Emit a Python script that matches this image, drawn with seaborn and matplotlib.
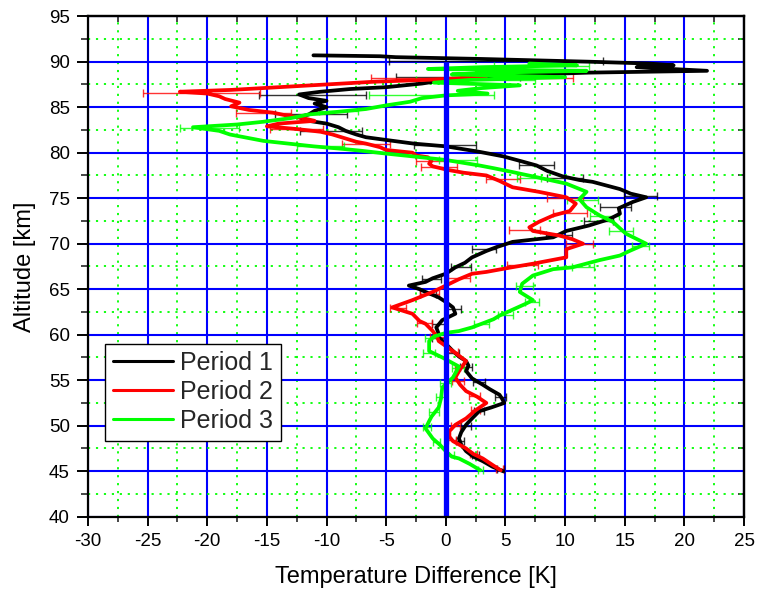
import numpy as np
import pandas as pd
import matplotlib
matplotlib.use("Agg")
import matplotlib.pyplot as plt
from matplotlib.ticker import MultipleLocator
import seaborn as sns

# ---------------- data ----------------
periods = ["Period 1", "Period 2", "Period 3"]
period_colors = ["#000000", "#FF0000", "#00FF00"]

p1_alt = [45.0, 45.5, 46.1, 46.6, 47.2, 47.9, 48.6, 49.3, 50.1, 50.8, 51.6, 52.0, 52.5, 53.0,
          53.4, 54.0, 54.5, 55.2, 56.0, 56.6, 57.1, 57.6, 58.2, 59.0, 59.7, 60.1, 60.8, 61.6,
          62.3, 63.0, 63.6, 64.1, 64.7, 65.0, 65.4, 65.8, 66.2, 66.7, 67.4, 67.9, 68.5, 69.2,
          69.6, 70.2, 70.7, 71.4, 72.0, 72.7, 73.3, 73.9, 74.6, 75.1, 75.5, 76.0, 76.8, 77.0,
          77.4, 78.0, 78.6, 79.0, 79.6, 80.1, 80.7, 81.0, 81.4, 81.7, 82.0, 82.4, 82.8, 83.2,
          83.5, 83.9, 84.2, 84.6, 85.0, 85.4, 85.7, 86.0, 86.4, 86.7, 87.0, 87.2, 87.6, 88.0,
          88.5, 88.8, 89.0, 89.4, 89.6, 89.8, 90.0, 90.3, 90.5, 90.6, 90.7]
p1_T = [4.8, 3.9, 3.1, 2.3, 1.7, 1.3, 1.1, 1.3, 1.7, 2.2, 2.8, 3.8, 4.9, 4.7,
        4.5, 3.7, 3.1, 2.2, 1.7, 1.9, 1.7, 1.1, 0.6, 0.0, -0.6, -0.6, -0.8, -0.3,
        0.8, 0.6, 0.0, -0.6, -1.7, -2.2, -3.1, -1.7, -1.1, 0.0, 0.8, 1.6, 2.2, 3.4,
        4.2, 5.6, 9.0, 10.1, 12.0, 13.7, 14.6, 14.5, 15.7, 16.8, 15.5, 14.6, 12.3, 11.2,
        9.8, 8.5, 7.6, 6.5, 4.8, 2.8, 0.0, -2.7, -5.0, -6.7, -7.5, -8.4, -9.0, -10.0,
        -11.5, -12.3, -11.5, -11.0, -10.0, -11.0, -10.0, -11.5, -12.3, -10.5, -8.0, -5.0, -2.0, 0.0,
        5.0, 12.0, 21.9, 16.0, 19.1, 17.0, 12.0, 3.0, -4.2, -5.5, -11.1]

p2_alt = [45.1, 45.7, 46.4, 46.9, 47.5, 48.3, 48.8, 49.4, 50.1, 50.8, 51.7, 52.5, 53.2, 53.8,
          54.5, 55.3, 56.2, 57.1, 58.2, 59.3, 59.7, 60.4, 61.2, 61.5, 62.3, 63.0, 63.8, 64.7,
          65.4, 66.1, 66.7, 66.9, 67.4, 67.8, 68.5, 69.4, 70.0, 70.5, 70.9, 71.4, 71.8, 72.4,
          73.1, 73.6, 74.4, 75.1, 75.7, 76.2, 76.9, 77.5, 77.8, 78.1, 78.5, 78.8, 79.1, 79.5,
          79.7, 80.0, 80.3, 80.6, 81.0, 81.2, 81.6, 82.0, 82.3, 82.6, 82.9, 83.2, 83.5, 83.8,
          84.1, 84.4, 84.7, 85.1, 85.5, 85.9, 86.2, 86.5, 86.7, 86.9, 87.2, 87.5, 87.8, 88.0,
          88.1, 88.4]
p2_T = [4.6, 3.9, 3.1, 2.3, 1.7, 0.6, 0.3, 0.3, 0.8, 1.7, 2.5, 3.4, 2.6, 1.7,
        1.2, 0.8, 1.2, 1.7, 0.6, -0.6, -0.7, -1.1, -1.7, -2.2, -2.8, -4.5, -2.8, -1.1,
        0.0, 1.1, 2.2, 3.4, 5.5, 7.3, 10.1, 10.1, 11.5, 10.6, 9.5, 7.3, 7.0, 7.8,
        9.0, 10.4, 10.9, 10.1, 7.8, 5.6, 4.5, 3.4, 1.5, 0.2, -1.1, -1.4, -1.2, -1.5,
        -2.5, -2.8, -5.0, -5.5, -6.7, -7.5, -8.5, -9.5, -10.5, -12.5, -15.0, -14.0, -11.0, -12.0,
        -13.4, -14.5, -16.5, -18.0, -17.3, -18.5, -19.0, -20.0, -22.3, -18.0, -14.0, -10.0, -6.0, -1.7,
        0.0, 3.4]

p3_alt = [45.1, 45.8, 46.4, 46.6, 47.2, 47.9, 48.6, 49.7, 50.5, 51.0, 52.0, 53.0, 54.2, 55.3,
          56.5, 57.5, 58.2, 59.3, 59.8, 60.2, 60.4, 60.8, 61.7, 62.1, 63.4, 63.8, 64.7, 65.6,
          66.5, 67.2, 67.4, 68.2, 68.7, 69.2, 70.0, 71.1, 72.4, 73.1, 74.0, 74.9, 75.7, 76.6,
          77.2, 77.9, 78.3, 78.6, 79.2, 79.6, 79.9, 80.2, 80.4, 80.7, 80.9, 81.3, 81.6, 82.0,
          82.4, 82.8, 83.1, 83.4, 83.8, 84.2, 84.5, 84.8, 85.2, 85.6, 86.0, 86.3, 86.5, 86.8,
          87.1, 87.4, 87.7, 88.0, 88.3, 88.6, 88.8, 89.0, 89.2, 89.4, 89.6, 89.8]
p3_T = [2.9, 2.0, 1.1, 0.5, 0.0, -0.5, -1.1, -1.7, -1.4, -1.2, -0.6, -0.4, -0.3, 0.6,
        1.1, -0.3, -1.4, -1.4, -1.0, 0.0, 1.1, 2.2, 4.0, 4.5, 6.7, 7.3, 6.2, 6.4,
        7.3, 9.0, 10.6, 12.9, 14.6, 15.4, 16.8, 15.1, 14.0, 12.9, 11.8, 11.2, 11.8, 10.1,
        8.0, 5.5, 4.0, 2.8, 0.0, -2.8, -5.0, -7.0, -8.5, -11.1, -12.5, -15.3, -16.5, -18.1,
        -19.0, -21.2, -17.5, -15.3, -13.0, -11.5, -9.0, -6.7, -5.0, -3.0, -2.0, 0.0, 3.5, 1.0,
        3.0, 6.2, -1.0, 2.0, 10.0, 0.5, 4.0, 11.8, -1.5, 3.0, 11.0, 7.0]

# error bars (altitude, centre, half width)
eb1_alt = [45.2, 46.8, 48.3, 50.0, 51.6, 53.2, 54.8, 56.4, 58.0, 59.6, 61.2, 62.8, 64.5, 66.1,
           67.4, 69.4, 71.0, 72.5, 74.0, 75.2, 77.2, 78.7, 80.9, 82.4, 84.3, 86.3, 88.3, 90.1]
eb1_T = [4.6, 2.5, 1.2, 1.7, 2.8, 4.6, 2.8, 1.7, 0.6, -0.6, -0.6, 0.7, -1.5, -1.2,
         1.3, 3.2, 9.5, 12.8, 14.2, 16.3, 10.0, 7.6, -0.1, -9.6, -11.3, -11.2, 1.0, 4.2]
eb1_err = [0.3, 0.3, 0.35, 0.4, 0.4, 0.45, 0.5, 0.5, 0.5, 0.55, 0.6, 0.6, 0.7, 0.8,
           0.85, 1.0, 1.1, 1.2, 1.3, 1.4, 1.5, 1.5, 2.6, 2.6, 3.0, 4.5, 5.2, 9.0]

eb2_alt = [45.2, 46.9, 48.4, 50.0, 51.7, 53.3, 54.9, 56.5, 58.1, 59.7, 61.3, 62.9, 64.5, 66.2,
           67.7, 70.0, 71.5, 73.4, 75.0, 77.1, 78.4, 79.1, 81.0, 82.6, 84.4, 86.6, 88.2]
eb2_T = [4.5, 2.3, 0.5, 0.8, 2.5, 2.4, 1.0, 1.3, 0.5, -0.7, -1.8, -4.0, -1.4, 1.1,
         6.4, 11.2, 6.6, 10.4, 10.0, 4.8, -0.6, -1.2, -6.7, -12.5, -15.3, -20.5, 2.2]
eb2_err = [0.3, 0.3, 0.35, 0.4, 0.4, 0.45, 0.5, 0.5, 0.55, 0.6, 0.6, 0.7, 0.8, 0.9,
           1.3, 1.1, 1.3, 1.4, 1.5, 1.4, 1.5, 1.3, 2.0, 2.2, 2.3, 4.9, 8.5]

eb3_alt = [45.1, 46.8, 48.2, 49.9, 51.5, 53.1, 54.7, 56.3, 58.0, 59.6, 61.2, 62.2, 63.6, 65.4,
           67.4, 69.8, 71.4, 73.0, 74.8, 77.2, 79.2, 80.7, 82.7, 84.6, 86.3, 88.0, 89.5]
eb3_T = [2.9, 0.4, -0.8, -1.6, -1.0, -0.4, 0.0, 1.0, -1.4, -1.2, 3.0, 5.0, 7.2, 6.6,
         11.5, 16.3, 14.7, 13.3, 11.5, 7.0, 1.0, -10.5, -19.8, -9.0, -1.2, 2.5, 8.0]
eb3_err = [0.2, 0.3, 0.3, 0.35, 0.4, 0.4, 0.45, 0.5, 0.5, 0.55, 0.6, 0.6, 0.6, 0.7,
           0.9, 0.7, 1.0, 1.2, 1.3, 1.0, 1.6, 2.0, 2.5, 1.6, 5.2, 5.0, 4.0]

x_ticks = [-30, -25, -20, -15, -10, -5, 0, 5, 10, 15, 20, 25]
y_ticks = [40, 45, 50, 55, 60, 65, 70, 75, 80, 85, 90, 95]
zero_line = {"T": 0, "alt_from": 40, "alt_to": 90}

# ---------------- figure ----------------
sns.set_theme(style="ticks")
plt.rcParams["font.family"] = ["Liberation Sans", "DejaVu Sans"]
plt.rcParams["axes.unicode_minus"] = False

fig = plt.figure(figsize=(7.57, 5.98), dpi=100)
ax = fig.add_axes([0.11625, 0.13595, 0.86658, 0.83696])

df = pd.concat([
    pd.DataFrame({"T": p1_T, "alt": p1_alt, "Period": periods[0]}),
    pd.DataFrame({"T": p2_T, "alt": p2_alt, "Period": periods[1]}),
    pd.DataFrame({"T": p3_T, "alt": p3_alt, "Period": periods[2]}),
], ignore_index=True)

sns.lineplot(data=df, x="T", y="alt", hue="Period", hue_order=periods,
             palette=period_colors, sort=False, estimator=None, orient="y",
             linewidth=2.7, legend=False, ax=ax, zorder=3)

for (ea, et, ee), col in zip([(eb1_alt, eb1_T, eb1_err), (eb2_alt, eb2_T, eb2_err),
                              (eb3_alt, eb3_T, eb3_err)], period_colors):
    ax.errorbar(et, ea, xerr=ee, fmt="none", ecolor=col, elinewidth=1.0,
                capsize=3.2, capthick=1.0, alpha=0.8, zorder=2.5)

ax.vlines(zero_line["T"], zero_line["alt_from"], zero_line["alt_to"],
          color="#0000FF", linewidth=3.8, zorder=6)

ax.set_xlim(-30, 25)
ax.set_ylim(40, 95)
ax.set_xticks(x_ticks)
ax.set_yticks(y_ticks)
ax.xaxis.set_minor_locator(MultipleLocator(2.5))
ax.yaxis.set_minor_locator(MultipleLocator(2.5))

ax.set_axisbelow(True)
ax.grid(which="major", color="#0000FF", linewidth=1.5, linestyle="-")
ax.grid(which="minor", color="#00FF00", linewidth=1.3, linestyle=(0, (1.2, 3.2)))

for s in ax.spines.values():
    s.set_color("black")
    s.set_linewidth(1.6)
    s.set_zorder(7)

ax.tick_params(axis="x", which="major", direction="out", length=6.5, width=1.4,
               labelsize=13.5, colors="black", pad=5)
ax.tick_params(axis="x", which="minor", direction="out", length=3.6, width=1.2)
ax.tick_params(axis="y", which="major", direction="out", length=8, width=1.4,
               labelsize=13.5, colors="black", pad=5)
ax.tick_params(axis="y", which="minor", direction="out", length=4.8, width=1.2)

secx = ax.secondary_xaxis("top")
secx.set_xticks(x_ticks)
secx.set_xticklabels([])
secx.xaxis.set_minor_locator(MultipleLocator(2.5))
secx.tick_params(which="major", direction="in", length=6, width=1.4)
secx.tick_params(which="minor", direction="in", length=4, width=1.2)
secx.spines["top"].set_linewidth(1.6)

secy = ax.secondary_yaxis("right")
secy.set_yticks(y_ticks)
secy.set_yticklabels([])
secy.yaxis.set_minor_locator(MultipleLocator(2.5))
secy.tick_params(which="major", direction="in", length=6, width=1.4)
secy.tick_params(which="minor", direction="in", length=4, width=1.2)
secy.spines["right"].set_linewidth(1.6)

ax.set_xlabel("Temperature Difference [K]", fontsize=17, labelpad=12, color="black")
ax.set_ylabel("Altitude [km]", fontsize=17, labelpad=9, color="black")

leg = ax.legend(handles=ax.lines[:3], labels=periods, loc="lower left",
                bbox_to_anchor=(0.026, 0.152), borderaxespad=0, fontsize=18,
                frameon=True, fancybox=False, framealpha=1, edgecolor="black",
                handlelength=2.4, handletextpad=0.3, labelspacing=0.2,
                borderpad=0.3)
leg.get_frame().set_linewidth(1.0)
for h in leg.get_lines():
    h.set_linewidth(2.2)
leg.set_zorder(8)

fig.savefig("out.png", dpi=100)
